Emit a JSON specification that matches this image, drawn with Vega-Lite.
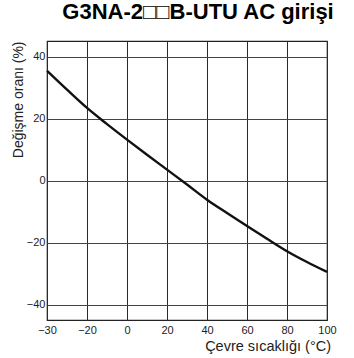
{
  "$schema": "https://vega.github.io/schema/vega-lite/v6.json",
  "autosize": "none",
  "padding": {"left": 47, "top": 41, "right": 27, "bottom": 38},
  "width": 280,
  "height": 279,
  "background": "white",
  "title": {
    "text": "G3NA-2□□B-UTU AC girişi",
    "font": "Liberation Sans, DejaVu Sans, sans-serif",
    "fontSize": 22,
    "fontWeight": "bold",
    "color": "#000000",
    "anchor": "middle",
    "baseline": "alphabetic",
    "offset": 0,
    "dx": 11
  },
  "config": {
    "font": "Liberation Sans",
    "view": {"stroke": "#222222", "strokeWidth": 1.2}
  },
  "data": {
    "values": [
      {"t": -30, "r": 35.4},
      {"t": -25, "r": 29.3},
      {"t": -20, "r": 23.4},
      {"t": -10, "r": 18.2},
      {"t": 0, "r": 13.2},
      {"t": 10, "r": 8.3},
      {"t": 20, "r": 3.5},
      {"t": 30, "r": -1.3},
      {"t": 40, "r": -6.2},
      {"t": 50, "r": -10.5},
      {"t": 60, "r": -14.7},
      {"t": 70, "r": -18.8},
      {"t": 80, "r": -22.8},
      {"t": 90, "r": -26.3},
      {"t": 100, "r": -29.5}
    ]
  },
  "mark": {"type": "line", "color": "#111111", "strokeWidth": 2.4, "interpolate": "monotone"},
  "encoding": {
    "x": {
      "field": "t",
      "type": "quantitative",
      "scale": {"domain": [-30, -20, 100], "range": [0, 40, 280], "nice": false, "zero": false},
      "axis": {
        "values": [-30, -20, 0, 20, 40, 60, 80, 100],
        "title": "Çevre sıcaklığı (°C)",
        "titleFont": "Liberation Sans",
        "titleFontSize": 14.5,
        "titleFontWeight": "normal",
        "titleColor": "#222222",
        "titleAlign": "right",
        "titleAnchor": null,
        "titleX": 283.5,
        "titleY": 30.5,
        "titleBaseline": "alphabetic",
        "domain": false,
        "ticks": false,
        "labelFontSize": 11,
        "labelColor": "#222222",
        "labelPadding": 4,
        "labelFlush": false,
        "grid": true,
        "gridColor": "#2a2a2a",
        "gridWidth": 1,
        "gridOpacity": 1
      }
    },
    "y": {
      "field": "r",
      "type": "quantitative",
      "scale": {"domain": [-45, 45], "nice": false, "zero": false},
      "axis": {
        "values": [-40, -20, 0, 20, 40],
        "title": "Değişme oranı (%)",
        "titleFont": "Liberation Sans",
        "titleFontSize": 14,
        "titleFontWeight": "normal",
        "titleColor": "#222222",
        "titleAngle": -90,
        "titleAlign": "right",
        "titleAnchor": null,
        "titleX": -25,
        "titleY": 0,
        "titleBaseline": "alphabetic",
        "domain": false,
        "ticks": false,
        "labelFontSize": 11,
        "labelColor": "#222222",
        "labelPadding": 2,
        "labelFlush": false,
        "grid": true,
        "gridColor": "#444444",
        "gridWidth": 1,
        "gridOpacity": 1
      }
    }
  }
}
